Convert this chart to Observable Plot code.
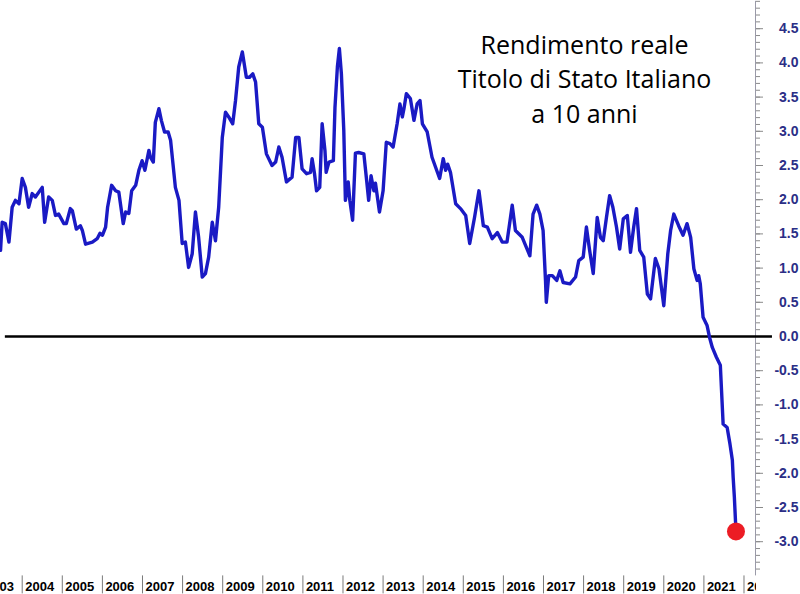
<!DOCTYPE html>
<html>
<head>
<meta charset="utf-8">
<script src="https://cdn.jsdelivr.net/npm/d3@7"></script>
<script src="https://cdn.jsdelivr.net/npm/@observablehq/plot@0.6"></script>
<style>
  html, body { margin: 0; padding: 0; background: white; }
  #chart { width: 800px; height: 594px; overflow: hidden; }
</style>
</head>
<body>
<div id="chart"></div>
<script>
// Decimal year of each observation
const years = [
  2003.46, 2003.50, 2003.58, 2003.67, 2003.75, 2003.83, 2003.92, 2004.00, 2004.08, 2004.16,
  2004.25, 2004.33, 2004.50, 2004.56, 2004.66, 2004.75, 2004.83, 2004.91, 2005.04, 2005.10,
  2005.20, 2005.25, 2005.35, 2005.45, 2005.50, 2005.58, 2005.75, 2005.87, 2005.94, 2006.00,
  2006.08, 2006.13, 2006.23, 2006.33, 2006.41, 2006.52, 2006.58, 2006.66, 2006.73, 2006.83,
  2006.91, 2006.99, 2007.06, 2007.16, 2007.20, 2007.27, 2007.32, 2007.41, 2007.47, 2007.55,
  2007.64, 2007.70, 2007.82, 2007.91, 2007.99, 2008.07, 2008.15, 2008.24, 2008.32, 2008.40,
  2008.49, 2008.57, 2008.65, 2008.74, 2008.82, 2008.90, 2008.99, 2009.07, 2009.15, 2009.25,
  2009.32, 2009.40, 2009.49, 2009.59, 2009.67, 2009.75, 2009.82, 2009.90, 2009.99, 2010.09,
  2010.23, 2010.32, 2010.40, 2010.48, 2010.59, 2010.73, 2010.82, 2010.90, 2010.98, 2011.09,
  2011.19, 2011.23, 2011.29, 2011.34, 2011.42, 2011.48, 2011.55, 2011.58, 2011.65, 2011.76,
  2011.80, 2011.86, 2011.91, 2011.96, 2012.02, 2012.06, 2012.13, 2012.17, 2012.24, 2012.31,
  2012.39, 2012.52, 2012.59, 2012.64, 2012.70, 2012.77, 2012.81, 2012.91, 2013.00, 2013.08,
  2013.17, 2013.25, 2013.35, 2013.42, 2013.48, 2013.52, 2013.58, 2013.68, 2013.77, 2013.85,
  2013.92, 2013.98, 2014.10, 2014.22, 2014.41, 2014.50, 2014.56, 2014.61, 2014.68, 2014.81,
  2014.93, 2015.06, 2015.16, 2015.28, 2015.39, 2015.50, 2015.60, 2015.72, 2015.85, 2015.97,
  2016.09, 2016.22, 2016.30, 2016.47, 2016.66, 2016.74, 2016.83, 2016.91, 2016.99, 2017.05,
  2017.07, 2017.13, 2017.22, 2017.33, 2017.41, 2017.49, 2017.66, 2017.80, 2017.88, 2017.99,
  2018.07, 2018.15, 2018.24, 2018.34, 2018.42, 2018.49, 2018.57, 2018.65, 2018.73, 2018.82,
  2018.90, 2018.99, 2019.09, 2019.17, 2019.25, 2019.32, 2019.40, 2019.50, 2019.59, 2019.67,
  2019.79, 2019.88, 2020.00, 2020.10, 2020.17, 2020.25, 2020.37, 2020.48, 2020.58, 2020.67,
  2020.75, 2020.83, 2020.87, 2020.91, 2020.98, 2021.08, 2021.14, 2021.21, 2021.31, 2021.41,
  2021.44, 2021.48, 2021.58, 2021.65, 2021.71, 2021.73, 2021.76, 2021.80
];
// Real yield (%) at each observation
const values = [
  1.26, 1.67, 1.65, 1.38, 1.89, 1.99, 1.94, 2.31, 2.18, 1.89,
  2.09, 2.04, 2.18, 1.67, 2.04, 1.99, 1.77, 1.79, 1.65, 1.65,
  1.87, 1.84, 1.57, 1.62, 1.55, 1.35, 1.38, 1.43, 1.51, 1.48,
  1.60, 1.89, 2.21, 2.13, 2.11, 1.65, 1.82, 1.80, 2.13, 2.21,
  2.43, 2.57, 2.43, 2.72, 2.62, 2.55, 3.13, 3.33, 3.16, 2.99,
  2.99, 2.87, 2.18, 1.99, 1.36, 1.38, 1.01, 1.21, 1.82, 1.45,
  0.87, 0.92, 1.16, 1.67, 1.40, 1.89, 2.91, 3.28, 3.21, 3.11,
  3.45, 3.94, 4.16, 3.79, 3.79, 3.84, 3.72, 3.11, 3.06, 2.67,
  2.50, 2.55, 2.77, 2.62, 2.26, 2.33, 2.91, 2.91, 2.45, 2.38,
  2.40, 2.60, 2.38, 2.13, 2.18, 3.11, 2.72, 2.40, 2.55, 2.57,
  3.35, 3.94, 4.21, 3.84, 3.01, 1.99, 2.26, 1.99, 1.70, 2.68,
  2.69, 2.67, 2.28, 1.99, 2.35, 2.13, 2.24, 1.82, 2.13, 2.84,
  2.82, 2.77, 3.11, 3.40, 3.21, 3.33, 3.55, 3.48, 3.16, 3.40,
  3.45, 3.11, 2.99, 2.62, 2.31, 2.60, 2.43, 2.52, 2.40, 1.94,
  1.87, 1.77, 1.36, 1.74, 2.13, 1.62, 1.60, 1.43, 1.52, 1.38,
  1.38, 1.92, 1.55, 1.45, 1.18, 1.79, 1.92, 1.79, 1.55, 0.82,
  0.50, 0.89, 0.89, 0.82, 0.96, 0.79, 0.77, 0.87, 1.11, 1.16,
  1.60, 1.26, 0.92, 1.74, 1.45, 1.40, 1.74, 2.06, 1.89, 1.60,
  1.28, 1.72, 1.77, 1.23, 1.60, 1.87, 1.26, 1.16, 0.62, 0.55,
  1.14, 0.99, 0.45, 1.21, 1.55, 1.79, 1.62, 1.48, 1.65, 1.45,
  0.99, 0.82, 0.89, 0.77, 0.28, 0.16, -0.01, -0.16, -0.30, -0.42,
  -0.79, -1.28, -1.33, -1.57, -1.81, -2.06, -2.35, -2.85
];
const yearTicks = d3.range(2003, 2023);            // 2003 … 2022
const majorTicks = d3.range(-6, 10).map(d => d / 2); // -3.0 … 4.5
const minorTicks = d3.range(-34, 50).map(d => d / 10);
const titleLines = ["Rendimento reale", "Titolo di Stato Italiano", "a 10 anni"];

const data = years.map((t, i) => ({t, v: values[i]}));
const last = data[data.length - 1];

const xDomain = [2003.459, 2022.287];
const yDomain = [-3.5, 4.9];
const navy = "#2b2e86";
const axisGray = "#8a8a8a";

const chart = Plot.plot({
  width: 800,
  height: 594,
  marginLeft: 0,
  marginRight: 45,
  marginTop: 336 - 68.4 * 4.9,
  marginBottom: 594 - (336 + 68.4 * 3.5),
  x: {domain: xDomain, label: null},
  y: {domain: yDomain, label: null},
  style: {background: "white", fontFamily: "'Liberation Sans', Arial, sans-serif", overflow: "hidden"},
  marks: [
    // right y axis: line, minor and major ticks, labels
    Plot.ruleX([xDomain[1]], {y1: yDomain[0], y2: yDomain[1], stroke: "#9a9aa8", strokeWidth: 1}),
    Plot.axisY(minorTicks, {anchor: "right", tickSize: 4, tickFormat: () => "", stroke: axisGray, label: null}),
    Plot.axisY(majorTicks, {
      anchor: "right", tickSize: 7, tickPadding: 36, textAnchor: "end",
      tickFormat: d => d.toFixed(1), stroke: axisGray, fill: navy,
      fontWeight: "bold", fontSize: 14, label: null
    }),
    // x axis: year cell separators and labels
    Plot.axisX(yearTicks, {anchor: "bottom", tickSize: 18, tickFormat: () => "", stroke: "#7a7a7a", label: null}),
    Plot.axisX(yearTicks, {
      anchor: "bottom", tickSize: 0, tickPadding: 6, textAnchor: "start", dx: 3,
      tickFormat: d => String(d), fill: "black", fontWeight: "bold", fontSize: 13, label: null
    }),
    // zero line
    Plot.ruleY([0], {x1: 2003.58, x2: 2022.71, stroke: "black", strokeWidth: 2.5}),
    // series
    Plot.line(data, {x: "t", y: "v", stroke: "#1a1ac4", strokeWidth: 3.4, strokeLinejoin: "round"}),
    Plot.dot([last], {x: "t", y: "v", r: 9, fill: "#ec1c24", stroke: "none"}),
    // title
    Plot.text([titleLines.join("\n")], {
      frameAnchor: "top-left", dx: 584, dy: 28, lineAnchor: "top", textAnchor: "middle",
      lineHeight: 1.38, fontSize: 25, fontFamily: "'Open Sans', sans-serif", fill: "black"
    })
  ]
});

document.getElementById("chart").appendChild(chart);

// clip the year labels at the right edge of the plot frame
const svg = d3.select(chart);
svg.append("defs").append("clipPath").attr("id", "xlabclip")
  .append("rect").attr("x", 0).attr("y", 0).attr("width", 756).attr("height", 594);
const clipG = svg.append("g").attr("clip-path", "url(#xlabclip)");
svg.selectAll('g[aria-label="x-axis tick label"]').each(function() { clipG.node().appendChild(this); });
</script>
</body>
</html>
